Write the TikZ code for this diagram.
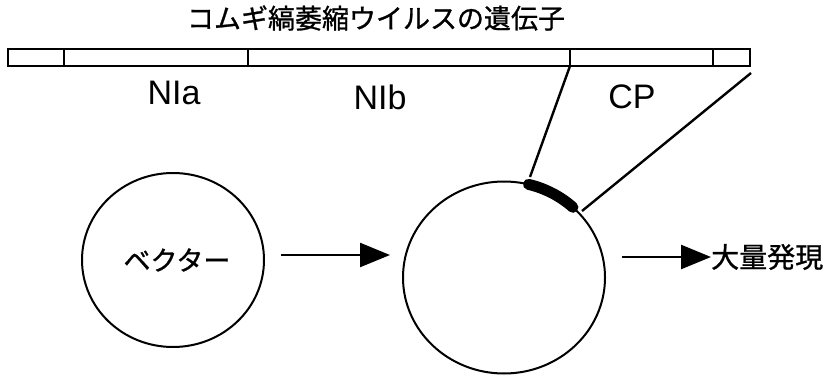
\documentclass[tikz,border=0pt]{standalone}
\usepackage{fontspec}
\setmainfont{Liberation Sans}
\newfontfamily\jp[AutoFakeBold=1.0]{Noto Sans CJK JP}
\usetikzlibrary{arrows.meta,shapes.geometric,calc}
\begin{document}
\begin{tikzpicture}[x=1pt,y=1pt,
  ring/.style={draw, ellipse, line width=2pt, inner sep=0pt},
  seg/.style={draw, line width=1.8pt},
  lbl/.style={font=\fontsize{34}{34}\selectfont, inner sep=0pt},
  jlbl/.style={font=\jp\bfseries\fontsize{27}{27}\selectfont, inner sep=0pt},
  conn/.style={line width=2.4pt},
  arr/.style={line width=2.4pt, -{Triangle[length=30pt,width=24pt]}}]
\useasboundingbox (0,0) rectangle (826,378);
% title
\node[jlbl] (title) at (376,360) {コムギ縞萎縮ウイルスの遺伝子};
% gene bar
\draw[seg] (8,312) rectangle (750,329);
\coordinate (d1t) at (64,329);  \coordinate (d1b) at (64,312);
\coordinate (d2t) at (248,329); \coordinate (d2b) at (248,312);
\coordinate (d3t) at (570,329); \coordinate (d3b) at (570,312);
\coordinate (d4t) at (713,329); \coordinate (d4b) at (713,312);
\coordinate (rend) at (751,305);
\draw[seg] (d1t) -- (d1b) (d2t) -- (d2b) (d3t) -- (d3b) (d4t) -- (d4b);
% region labels
\node[lbl] (nia) at (174,285.5) {NIa};
\node[lbl] (nib) at (380,280.5) {NIb};
\node[lbl] (cp) at (632,281) {CP};
% circles
\node[ring, minimum width=182pt, minimum height=174pt] (c1) at (173,118) {};
\node[jlbl] (vec) at (177,118) {ベクター};
\node[ring, minimum width=202pt, minimum height=192pt] (c2) at (504,100.5) {};
% inserted CP segment
\draw[line width=11pt, line cap=round]
  ($(504,100.5)+(76:101 and 96)$) arc[start angle=76, end angle=47, x radius=101, y radius=96];
\coordinate (ins1) at (530,201);
\coordinate (ins2) at (582,167);
\draw[conn] (d3b) -- (ins1);
\draw[conn] (rend) -- (ins2);
% arrows
\coordinate (a1s) at (281,123);
\coordinate (a1e) at (390,123);
\draw[arr] (a1s) -- (a1e);
\node[jlbl, font=\jp\bfseries\fontsize{28}{28}\selectfont, anchor=west] (out) at (711,121) {大量発現};
\coordinate (a2s) at (622,121);
\draw[arr] (a2s) -- (out.west);
\end{tikzpicture}
\end{document}
